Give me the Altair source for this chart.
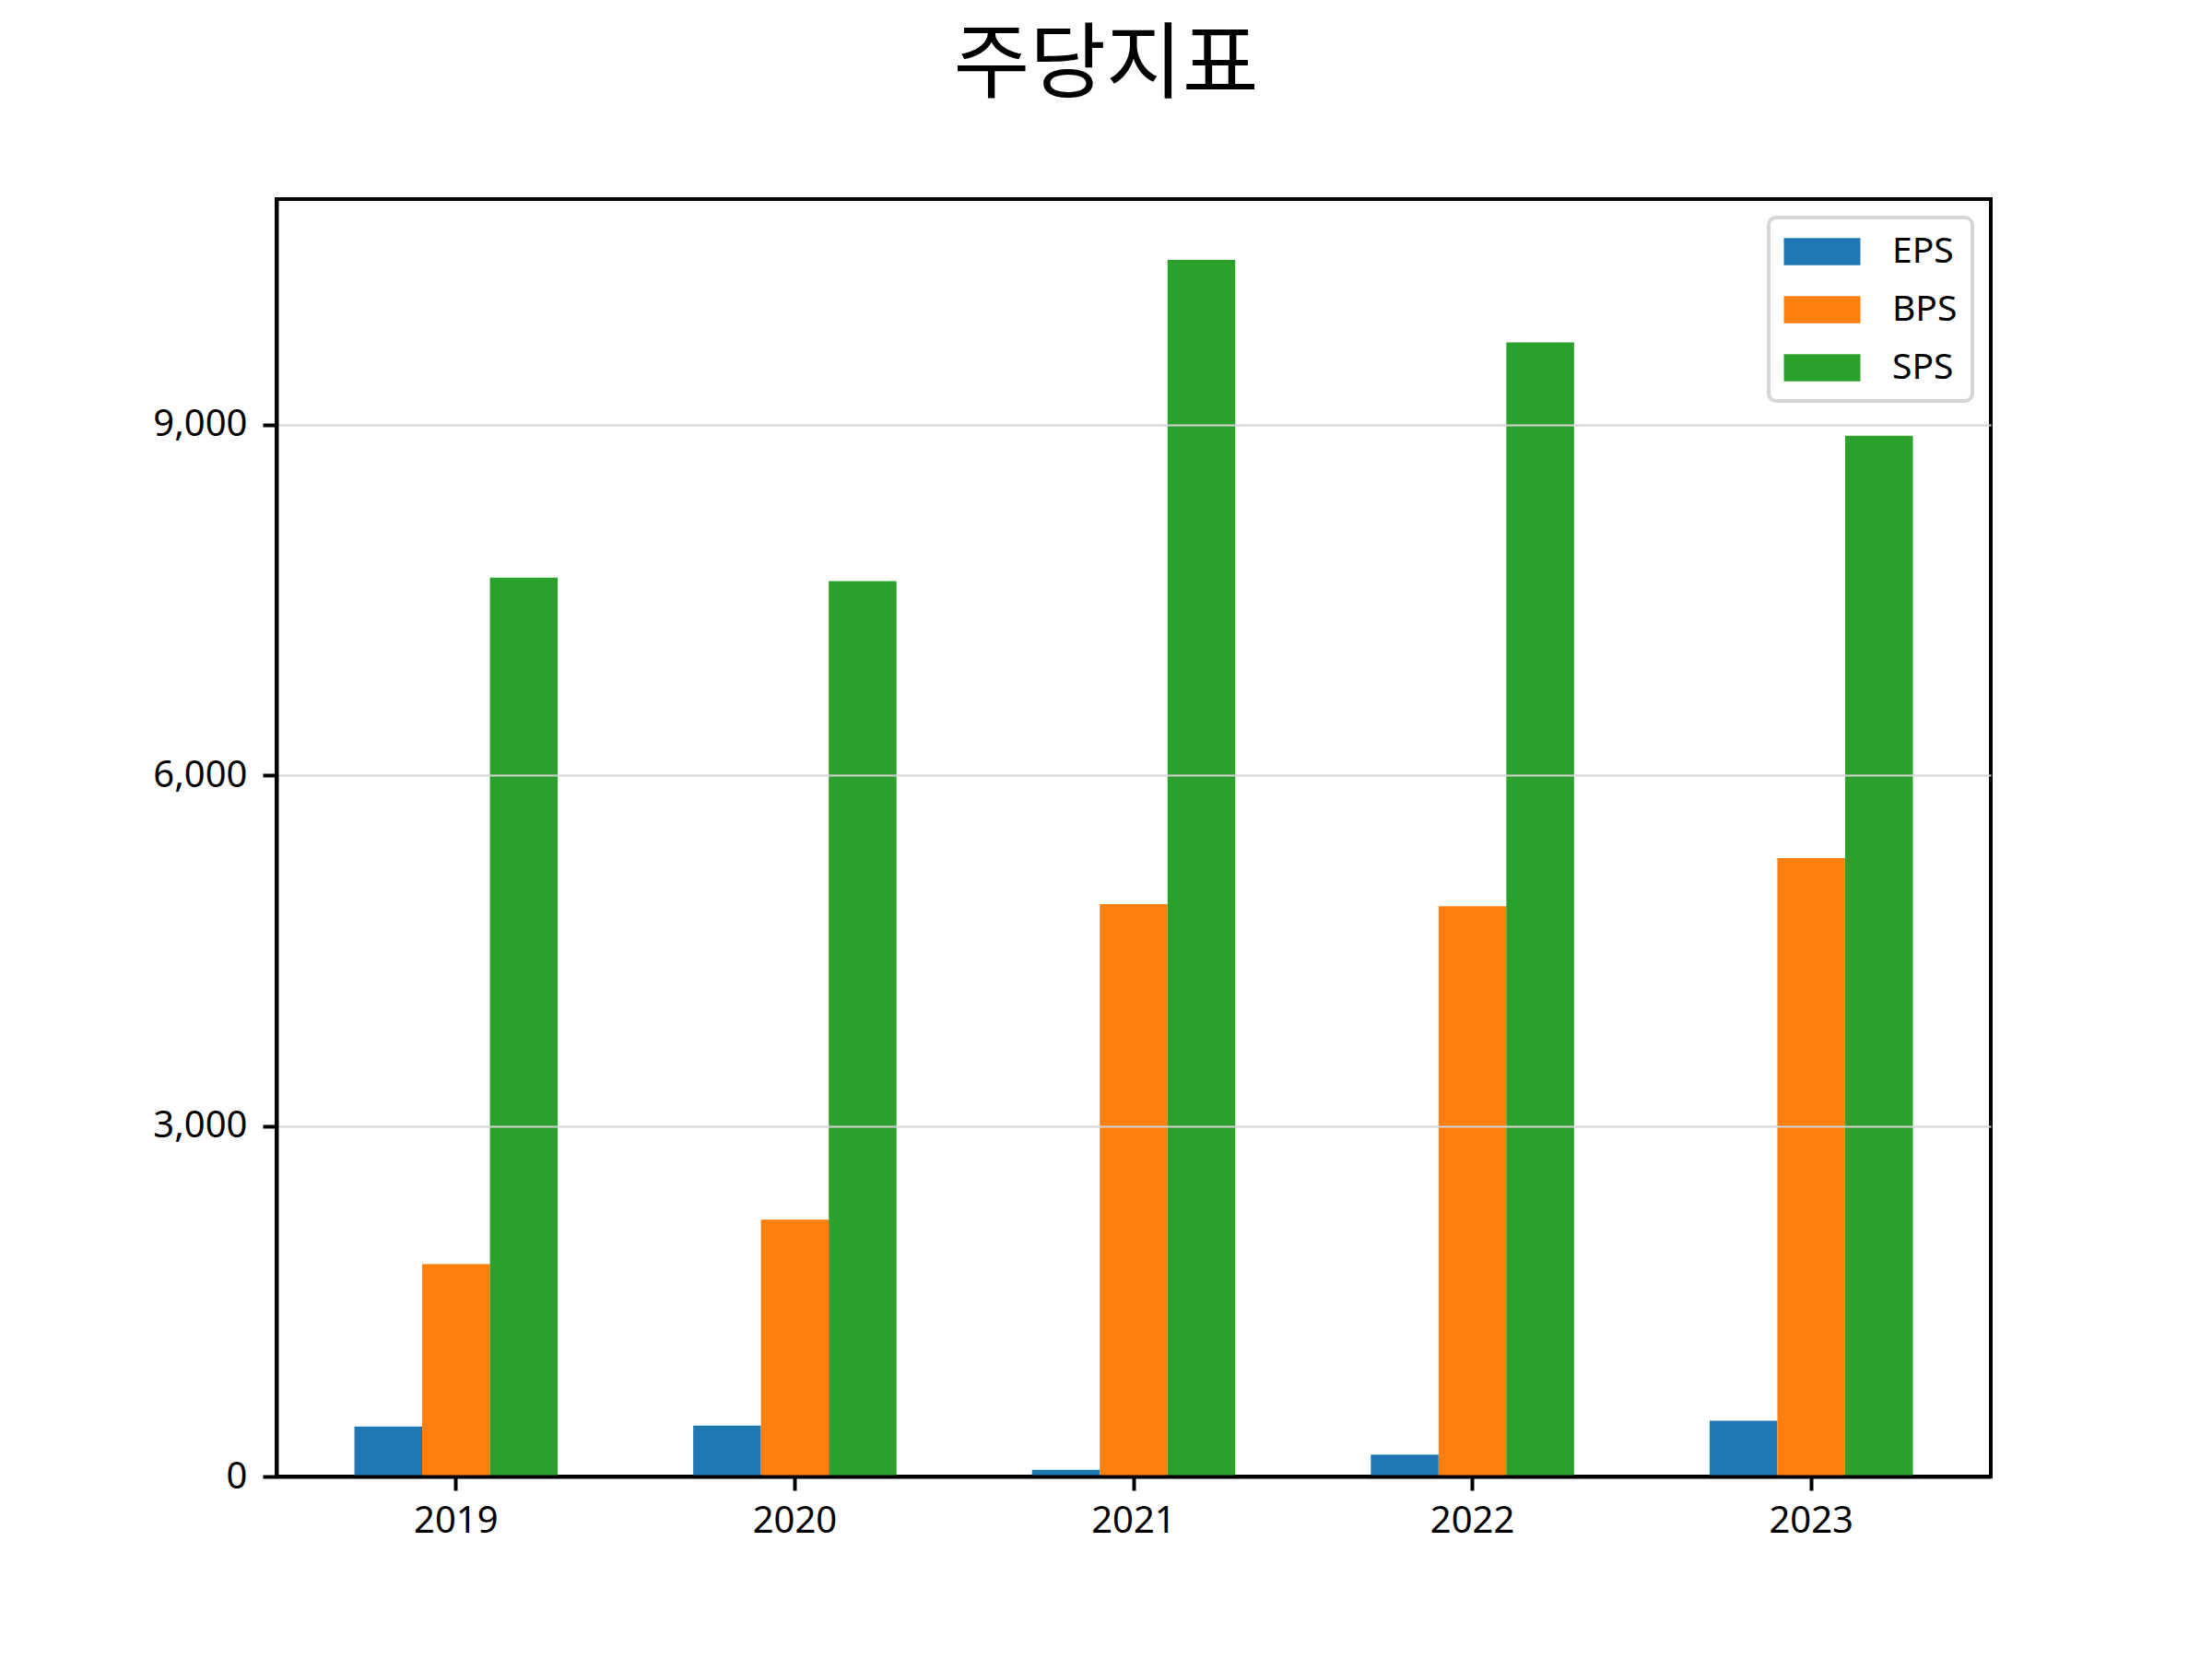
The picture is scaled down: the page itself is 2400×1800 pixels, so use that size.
import altair as alt
import pandas as pd

years = ["2019", "2020", "2021", "2022", "2023"]
series = ["EPS", "BPS", "SPS"]
eps = [428, 436, 58, 188, 477]
bps = [1818, 2198, 4897, 4879, 5291]
sps = [7691, 7660, 10409, 9702, 8905]
colors = ["#1f77b4", "#ff7f0e", "#2ca02c"]
y_ticks = [0, 3000, 6000, 9000]
y_max = 10929
title_text = "주당지표"

rows = []
for name, vals in zip(series, [eps, bps, sps]):
    for yr, v in zip(years, vals):
        rows.append({"year": yr, "series": name, "value": v})
df = pd.DataFrame(rows)

W, H = 1860, 1386

chart = alt.Chart(df).mark_bar().encode(
    x=alt.X(
        "year:N", sort=years,
        scale=alt.Scale(paddingInner=0.4, paddingOuter=0.23),
        axis=alt.Axis(
            title=None, labelAngle=0, labelFont="Noto Sans", labelFontSize=40,
            labelColor="black", tickSize=15, tickWidth=4, tickColor="black",
            labelPadding=13, domainColor="black", domainWidth=4, grid=False, zindex=1,
        ),
    ),
    xOffset=alt.XOffset("series:N", sort=series, scale=alt.Scale(paddingInner=0, paddingOuter=0)),
    y=alt.Y(
        "value:Q",
        scale=alt.Scale(domain=[0, y_max], nice=False, zero=True),
        axis=alt.Axis(
            title=None, values=y_ticks, format=",.0f", labelFont="Noto Sans", labelFontSize=40,
            labelColor="black", tickSize=15, tickWidth=4, tickColor="black",
            labelPadding=17, domainColor="black", domainWidth=4, grid=True,
            gridColor="#d3d3d3", gridWidth=2,
            gridOpacity={"condition": {"test": "datum.value === 0", "value": 0}, "value": 1},
            zindex=1,
        ),
    ),
    color=alt.Color(
        "series:N", sort=series,
        scale=alt.Scale(domain=series, range=colors),
        legend=alt.Legend(
            title=None, orient="none", legendX=1619, legendY=20, direction="vertical",
            symbolType="M-2,-0.716L2,-0.716L2,0.716L-2,0.716Z", symbolSize=1722,
            symbolOffset=21, symbolStrokeWidth=0, symbolOpacity=1,
            labelFont="Noto Sans", labelFontSize=39, labelColor="black",
            labelOffset=55, rowPadding=22, padding=16,
            fillColor="white", strokeColor="#d6d6d6", cornerRadius=8,
        ),
    ),
).properties(
    width=W, height=H, background="white",
    title=alt.TitleParams(
        text=title_text, font="Noto Sans CJK KR", fontSize=90, fontWeight="normal",
        color="black", anchor="middle", frame="group", offset=54, baseline="middle", dx=-30,
    ),
    padding={"left": 292, "top": 208, "right": 232, "bottom": 190},
    autosize="none",
).configure_view(
    stroke="black", strokeWidth=4
).configure_legend(
    strokeWidth=4
)

chart.save("out.html", embed_options={"renderer": "svg", "actions": False})
